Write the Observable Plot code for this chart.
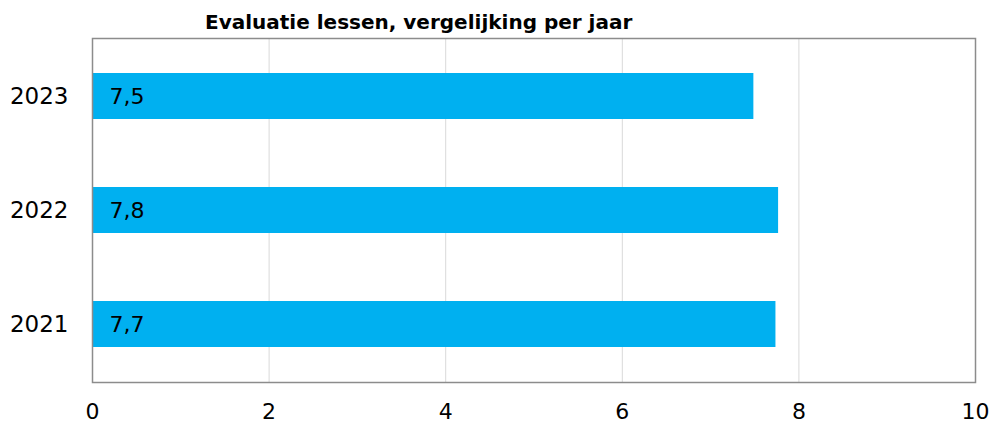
<!DOCTYPE html>
<html>
<head>
<meta charset="utf-8">
<script src="https://cdn.jsdelivr.net/npm/d3@7"></script>
<script src="https://cdn.jsdelivr.net/npm/@observablehq/plot@0.6"></script>
<style>
  html, body { margin: 0; padding: 0; background: #fff; }
  #wrap { position: relative; width: 993px; height: 425px; overflow: hidden; }
  #title { position: absolute; left: 205px; top: 0; height: 37px; line-height: 1;
           font-family: "DejaVu Sans", sans-serif; font-weight: bold; font-size: 20px;
           color: #000; padding-top: 12px; box-sizing: border-box; white-space: nowrap; }
  #chart { position: absolute; left: 0; top: 37px; }
</style>
</head>
<body>
<div id="wrap">
  <div id="title"></div>
  <div id="chart"></div>
</div>
<script>
const titleText = "Evaluatie lessen, vergelijking per jaar";
const years = ["2023", "2022", "2021"];
const scores = [7.49, 7.77, 7.74];
const xTicks = [0, 2, 4, 6, 8, 10];
const gridTicks = [2, 4, 6, 8];

const data = years.map((y, i) => ({year: y, score: scores[i]}));
const fmt = v => v.toFixed(1).replace(".", ",");

document.getElementById("title").textContent = titleText;

const chart = Plot.plot({
  width: 993,
  height: 388,
  marginTop: 1,
  marginBottom: 43,
  marginLeft: 92,
  marginRight: 18,
  style: {fontFamily: "DejaVu Sans, sans-serif", background: "#fff", color: "#000"},
  x: {domain: [0, 10], ticks: xTicks, label: null},
  y: {domain: years, paddingInner: 0.6, paddingOuter: 0.3, label: null},
  marks: [
    Plot.ruleX(gridTicks, {stroke: "#d9d9d9", strokeWidth: 1, strokeOpacity: 1}),
    Plot.barX(data, {x: "score", y: "year", fill: "#00b0f0"}),
    Plot.text(data, {x: 0, y: "year", text: d => fmt(d.score), textAnchor: "start", dx: 17, fontSize: 22, fill: "#000"}),
    Plot.frame({stroke: "#8c8c8c", strokeWidth: 1.5}),
    Plot.axisX({ticks: xTicks, tickSize: 0, tickPadding: 21, fontSize: 22, tickFormat: d => String(d), label: null}),
    Plot.axisY({tickSize: 0, tickPadding: 24, fontSize: 23, label: null})
  ]
});
document.getElementById("chart").appendChild(chart);
</script>
</body>
</html>
